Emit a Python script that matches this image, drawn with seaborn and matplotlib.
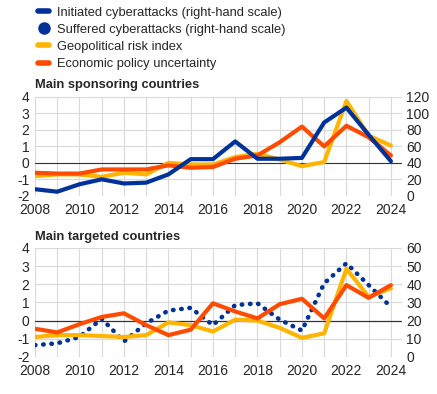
import matplotlib
matplotlib.use("Agg")
import matplotlib.pyplot as plt
from matplotlib.lines import Line2D
import seaborn as sns

# Data
years = list(range(2008, 2025))

# Main sponsoring countries
spon_initiated = [8, 5, 14, 20, 15, 16, 26, 44.5, 44.5, 66, 45, 45, 46, 89, 107, 74, 42]  # right-hand scale
spon_gpr = [-0.8, -0.7, -0.7, -0.85, -0.6, -0.7, 0.0, -0.1, -0.1, 0.35, 0.55, 0.2, -0.2, 0.05, 3.75, 1.65, 1.05]
spon_epu = [-0.6, -0.65, -0.65, -0.4, -0.4, -0.4, -0.15, -0.3, -0.25, 0.25, 0.45, 1.25, 2.2, 1.0, 2.25, 1.55, 0.45]

# Main targeted countries
targ_suffered = [6.5, 7.5, 11, 21, 8.5, 18.5, 25.5, 27, 17.5, 28.5, 29.5, 20.5, 14.5, 40.5, 51.5, 39.5, 27.5]  # right-hand scale
targ_gpr = [-0.9, -0.8, -0.8, -0.85, -0.9, -0.8, -0.1, -0.25, -0.6, 0.05, 0.0, -0.4, -0.95, -0.7, 2.85, 1.3, 1.78]
targ_epu = [-0.45, -0.65, -0.2, 0.2, 0.4, -0.25, -0.8, -0.5, 0.95, 0.5, 0.12, 0.9, 1.2, 0.12, 1.95, 1.25, 1.95]

BLUE = "#003299"
YELLOW = "#ffb400"
ORANGE = "#ff4b00"
GRID = "#d9d9d9"

sns.set_style("white")
plt.rcParams["font.family"] = ["Liberation Sans", "DejaVu Sans"]
plt.rcParams["font.size"] = 9.5
plt.rcParams["axes.unicode_minus"] = False

fig = plt.figure(figsize=(4.37, 3.94), dpi=100)
ax_top = fig.add_axes([0.080, 0.503, 0.840, 0.251])
ax_bot = fig.add_axes([0.080, 0.094, 0.840, 0.277])


def style_axes(ax, ax2, rmax, rstep):
    ax.set_xlim(2008, 2024.5)
    ax.set_ylim(-2, 4)
    ax.set_xticks(years)
    ax.set_xticklabels([str(y) if y % 2 == 0 else "" for y in years])
    ax.set_yticks(range(-2, 5))
    ax.grid(True, color=GRID, lw=0.8)
    ax.axhline(0, color="#333333", lw=0.8, zorder=1)
    ax.set_xlabel("")
    ax.set_ylabel("")
    ax.tick_params(axis="y", length=0, labelsize=10, pad=4)
    ax.tick_params(axis="x", length=0, labelsize=10, pad=5)
    ax2.set_ylim(0, rmax)
    ax2.set_yticks(range(0, rmax + 1, rstep))
    ax2.tick_params(length=0, labelsize=10, pad=3)
    ax2.set_ylabel("")
    for a in (ax, ax2):
        for s in a.spines.values():
            s.set_visible(False)


# Top panel
sns.lineplot(x=years, y=spon_gpr, ax=ax_top, color=YELLOW, lw=3)
sns.lineplot(x=years, y=spon_epu, ax=ax_top, color=ORANGE, lw=3)
ax_top2 = ax_top.twinx()
sns.lineplot(x=years, y=spon_initiated, ax=ax_top2, color=BLUE, lw=3)
style_axes(ax_top, ax_top2, 120, 20)

# Bottom panel
ax_bot2 = ax_bot.twinx()
sns.lineplot(x=years, y=targ_suffered, ax=ax_bot2, color=BLUE, lw=3.3,
             linestyle=(0, (0.1, 1.7)), dash_capstyle="round")
ax_bot.set_zorder(ax_bot2.get_zorder() + 1)
ax_bot.patch.set_visible(False)
sns.lineplot(x=years, y=targ_gpr, ax=ax_bot, color=YELLOW, lw=3)
sns.lineplot(x=years, y=targ_epu, ax=ax_bot, color=ORANGE, lw=3)
style_axes(ax_bot, ax_bot2, 60, 10)
ax_bot.grid(False)
ax_bot2.set_xlim(2008, 2024.5)
ax_bot2.grid(False)
for y in range(-2, 5):
    ax_bot2.axhline((y + 2) * 10, color=GRID, lw=0.8, zorder=0)
for x in years:
    ax_bot2.axvline(x, color=GRID, lw=0.8, zorder=0)
ax_bot2.axhline(20, color="#333333", lw=0.8, zorder=1)

fig.text(0.080, 0.777, "Main sponsoring countries", fontsize=9.3, fontweight="bold")
fig.text(0.080, 0.390, "Main targeted countries", fontsize=9.3, fontweight="bold")

handles = [
    Line2D([], [], color=BLUE, lw=4),
    Line2D([], [], color=BLUE, marker="o", markersize=8, linestyle="none"),
    Line2D([], [], color=YELLOW, lw=4),
    Line2D([], [], color=ORANGE, lw=4),
]
labels = [
    "Initiated cyberattacks (right-hand scale)",
    "Suffered cyberattacks (right-hand scale)",
    "Geopolitical risk index",
    "Economic policy uncertainty",
]
fig.legend(handles, labels, loc="upper left", bbox_to_anchor=(0.06, 1.013),
           frameon=False, handlelength=0.9, handletextpad=0.6,
           labelspacing=0.4, fontsize=9.3)

fig.savefig("out.png", dpi=100)
